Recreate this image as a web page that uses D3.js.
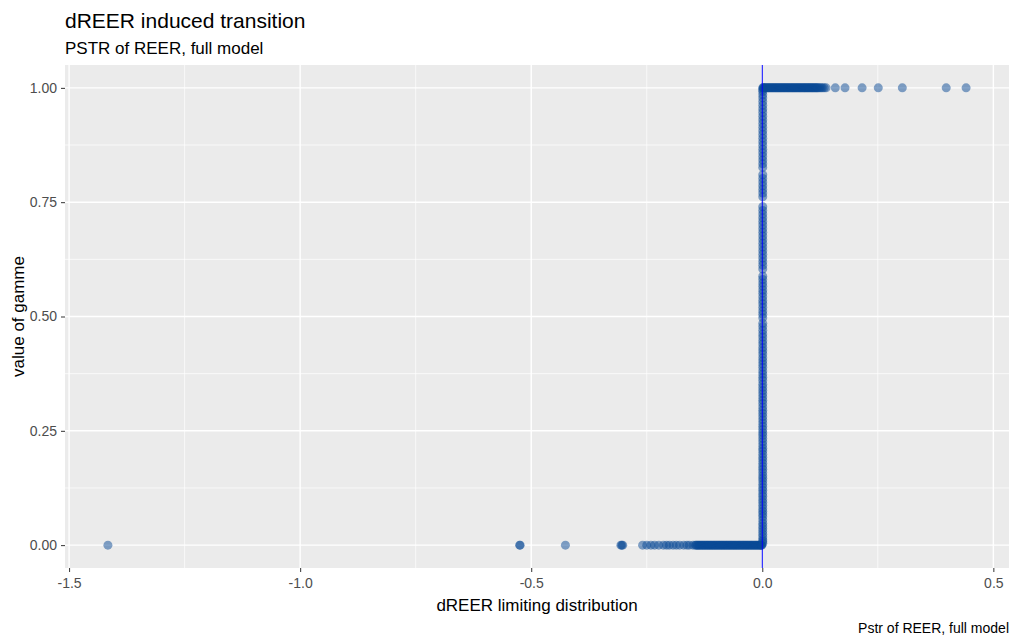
<!DOCTYPE html>
<html>
<head>
<meta charset="utf-8">
<script src="https://cdn.jsdelivr.net/npm/d3@7"></script>
<style>
  body { margin: 0; background: #fff; }
  text { font-family: "Liberation Sans", Arial, sans-serif; }
</style>
</head>
<body>
<div id="chart"></div>
<script>
// Points sitting on gamma = 0 (left branch)
const bottomX = [-1.416, -0.525, -0.524, -0.426, -0.306, -0.304, -0.302, -0.259, -0.250, -0.241, -0.233, -0.224,
  -0.214, -0.207, -0.201, -0.193, -0.186, -0.179, -0.170, -0.163, -0.158, -0.150, -0.145, -0.143,
  -0.141, -0.139, -0.137, -0.135, -0.133, -0.131, -0.129, -0.127, -0.125, -0.123, -0.121, -0.119,
  -0.117, -0.115, -0.113, -0.111, -0.109, -0.107, -0.105, -0.103, -0.101, -0.099, -0.097, -0.095,
  -0.093, -0.091, -0.089, -0.087, -0.085, -0.083, -0.081, -0.079, -0.077, -0.075, -0.073, -0.071,
  -0.069, -0.067, -0.065, -0.063, -0.061, -0.059, -0.057, -0.055, -0.053, -0.051, -0.049, -0.047,
  -0.045, -0.043, -0.041, -0.039, -0.037, -0.035, -0.033, -0.031, -0.029, -0.027, -0.025, -0.023,
  -0.021, -0.019, -0.017, -0.015, -0.013, -0.011, -0.009, -0.007, -0.005, -0.003, -0.002, -0.001];

// Points sitting on gamma = 1 (right branch)
const topX = [0.001, 0.002, 0.003, 0.005, 0.007, 0.009, 0.011, 0.013, 0.015, 0.017, 0.019, 0.021, 0.023,
  0.025, 0.027, 0.029, 0.031, 0.033, 0.035, 0.037, 0.039, 0.041, 0.043, 0.045, 0.047, 0.049, 0.051,
  0.053, 0.055, 0.057, 0.059, 0.061, 0.063, 0.065, 0.067, 0.069, 0.071, 0.073, 0.075, 0.077, 0.079,
  0.081, 0.083, 0.085, 0.087, 0.089, 0.091, 0.093, 0.095, 0.097, 0.099, 0.101, 0.103, 0.105, 0.107,
  0.109, 0.111, 0.113, 0.115, 0.117, 0.119, 0.121, 0.124, 0.127, 0.130, 0.134, 0.138, 0.158, 0.179,
  0.216, 0.251, 0.303, 0.398, 0.441];

// Points in the transition (x just above zero)
const vertY = [0.004, 0.008, 0.012, 0.018, 0.024, 0.03, 0.036, 0.042, 0.048, 0.055, 0.062, 0.068, 0.074,
  0.08, 0.087, 0.094, 0.1, 0.107, 0.113, 0.12, 0.126, 0.133, 0.14, 0.146, 0.152, 0.159, 0.166,
  0.172, 0.179, 0.186, 0.192, 0.199, 0.206, 0.212, 0.219, 0.226, 0.233, 0.24, 0.246, 0.253, 0.26,
  0.267, 0.274, 0.281, 0.288, 0.295, 0.302, 0.31, 0.317, 0.324, 0.331, 0.338, 0.345, 0.352, 0.36,
  0.367, 0.374, 0.381, 0.389, 0.396, 0.403, 0.41, 0.418, 0.425, 0.432, 0.44, 0.447, 0.455, 0.462,
  0.47, 0.478, 0.485, 0.497, 0.505, 0.512, 0.52, 0.528, 0.535, 0.543, 0.551, 0.558, 0.566, 0.573,
  0.581, 0.588, 0.604, 0.612, 0.62, 0.628, 0.636, 0.644, 0.652, 0.66, 0.668, 0.676, 0.684, 0.692,
  0.7, 0.708, 0.716, 0.724, 0.732, 0.74, 0.762, 0.77, 0.778, 0.786, 0.794, 0.802, 0.81, 0.826,
  0.834, 0.842, 0.85, 0.858, 0.866, 0.874, 0.882, 0.89, 0.898, 0.906, 0.914, 0.922, 0.93, 0.938,
  0.946, 0.954, 0.962, 0.97, 0.978, 0.985, 0.992, 0.996];
const vertX = 0.001;

const xTicks = [-1.5, -1.0, -0.5, 0.0, 0.5];
const yTicks = [0, 0.25, 0.5, 0.75, 1];

const points = []
  .concat(bottomX.map(x => ({ x: x, y: 0 })))
  .concat(topX.map(x => ({ x: x, y: 1 })))
  .concat(vertY.map(y => ({ x: vertX, y: y })));

const W = 1014, H = 641;
const margin = { top: 65, right: 5, bottom: 73, left: 65 };
const width = W - margin.left - margin.right;
const height = H - margin.top - margin.bottom;

const svg = d3.select("#chart").append("svg")
  .attr("width", W)
  .attr("height", H);

const xMin = d3.min(points, d => d.x), xMax = d3.max(points, d => d.x);
const xPad = (xMax - xMin) * 0.05;
const x = d3.scaleLinear()
  .domain([xMin - xPad, xMax + xPad])
  .range([0, width]);

const y = d3.scaleLinear()
  .domain([-0.05, 1.05])
  .range([height, 0]);

const g = svg.append("g")
  .attr("transform", "translate(" + margin.left + "," + margin.top + ")");

// panel background
g.append("rect")
  .attr("width", width)
  .attr("height", height)
  .attr("fill", "#ebebeb");

// minor grid
const xMinor = [-1.25, -0.75, -0.25, 0.25];
const yMinor = [0.125, 0.375, 0.625, 0.875];
g.selectAll(".xminor").data(xMinor).enter().append("line")
  .attr("x1", d => x(d)).attr("x2", d => x(d))
  .attr("y1", 0).attr("y2", height)
  .attr("stroke", "#fff").attr("stroke-width", 0.7);
g.selectAll(".yminor").data(yMinor).enter().append("line")
  .attr("x1", 0).attr("x2", width)
  .attr("y1", d => y(d)).attr("y2", d => y(d))
  .attr("stroke", "#fff").attr("stroke-width", 0.7);

// major grid
g.selectAll(".xmajor").data(xTicks).enter().append("line")
  .attr("x1", d => x(d)).attr("x2", d => x(d))
  .attr("y1", 0).attr("y2", height)
  .attr("stroke", "#fff").attr("stroke-width", 1.4);
g.selectAll(".ymajor").data(yTicks).enter().append("line")
  .attr("x1", 0).attr("x2", width)
  .attr("y1", d => y(d)).attr("y2", d => y(d))
  .attr("stroke", "#fff").attr("stroke-width", 1.4);

// points
g.append("g")
  .selectAll("circle")
  .data(points)
  .enter().append("circle")
  .attr("cx", d => x(d.x))
  .attr("cy", d => y(d.y))
  .attr("r", 4.5)
  .attr("fill", "#0a4a96")
  .attr("fill-opacity", 0.5);

// vertical line at zero
g.append("line")
  .attr("x1", x(0)).attr("x2", x(0))
  .attr("y1", 0).attr("y2", height)
  .attr("stroke", "#0000ff")
  .attr("stroke-width", 1);

// axes (plain hyphen for negatives, like R)
const fmtX = d => d3.format(".1f")(d).replace("\u2212", "-");
const fmtY = d => d3.format(".2f")(d);
const xAxis = g.append("g")
  .attr("transform", "translate(0," + height + ")")
  .call(d3.axisBottom(x).tickValues(xTicks).tickFormat(fmtX).tickSize(4).tickPadding(6));
const yAxis = g.append("g")
  .call(d3.axisLeft(y).tickValues(yTicks).tickFormat(fmtY).tickSize(4).tickPadding(4));

[xAxis, yAxis].forEach(a => {
  a.select(".domain").remove();
  a.selectAll(".tick line").attr("stroke", "#333").attr("stroke-width", 1);
  a.selectAll(".tick text")
    .attr("fill", "#4d4d4d")
    .style("font-size", "14px")
    .style("font-family", "'Liberation Sans', Arial, sans-serif");
});

// titles
svg.append("text")
  .attr("x", margin.left)
  .attr("y", 28)
  .style("font-size", "21px")
  .attr("fill", "#000")
  .text("dREER induced transition");

svg.append("text")
  .attr("x", margin.left)
  .attr("y", 54)
  .style("font-size", "17px")
  .attr("fill", "#000")
  .text("PSTR of REER, full model");

svg.append("text")
  .attr("x", margin.left + width / 2)
  .attr("y", 611)
  .attr("text-anchor", "middle")
  .style("font-size", "17px")
  .attr("fill", "#000")
  .text("dREER limiting distribution");

svg.append("text")
  .attr("transform", "translate(24," + (margin.top + height / 2) + ") rotate(-90)")
  .attr("text-anchor", "middle")
  .style("font-size", "17px")
  .attr("fill", "#000")
  .text("value of gamme");

svg.append("text")
  .attr("x", W - 5)
  .attr("y", 633)
  .attr("text-anchor", "end")
  .style("font-size", "14px")
  .attr("fill", "#000")
  .text("Pstr of REER, full model");
</script>
</body>
</html>
